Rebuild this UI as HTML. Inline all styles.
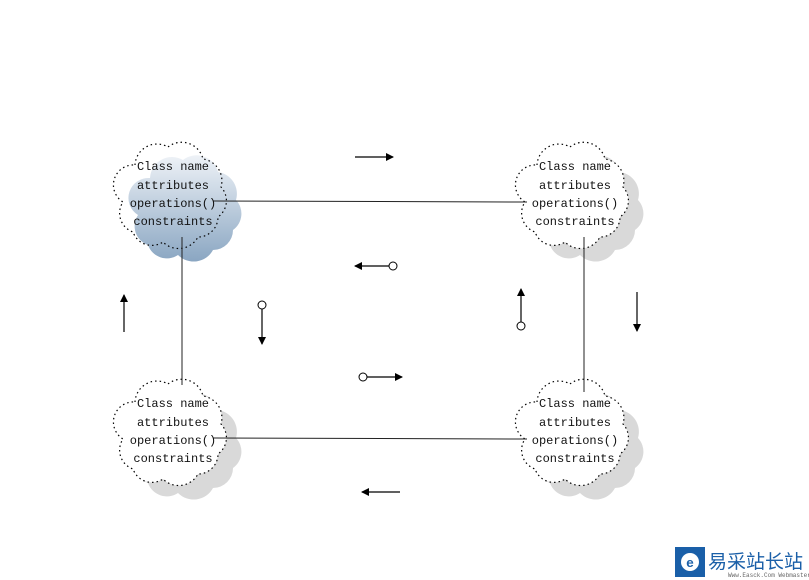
<!DOCTYPE html>
<html><head><meta charset="utf-8"><style>
html,body{margin:0;padding:0;background:#fff;width:809px;height:580px;overflow:hidden}
text{font-family:"Liberation Mono","DejaVu Sans Mono",monospace;font-size:12px;fill:#111}
</style></head><body>
<svg width="809" height="580" viewBox="0 0 809 580" xmlns="http://www.w3.org/2000/svg">
<defs>
<linearGradient id="bl" x1="0" y1="0" x2="0" y2="1">
<stop offset="0" stop-color="#eef2f7"/><stop offset="1" stop-color="#8aa6c2"/></linearGradient>
<path id="c" d="M-38,-32 A22,22 0 0 1 -5,-50 A22,22 0 0 1 30,-38 A22,22 0 0 1 48,-10 A20,20 0 0 1 45,20 A20,20 0 0 1 25,40 A22,22 0 0 1 -10,45 A20,20 0 0 1 -40,35 A20,20 0 0 1 -50,5 A20,20 0 0 1 -38,-32 Z"/>
<marker id="a" markerWidth="8" markerHeight="8" refX="7" refY="4" orient="auto" markerUnits="userSpaceOnUse"><path d="M0,0 L8,4 L0,8 Z" fill="#000"/></marker>
</defs>
<!-- shadows -->
<use href="#c" x="188" y="210" fill="url(#bl)"/>
<use href="#c" x="590" y="210" fill="#d9d9d9"/>
<use href="#c" x="188" y="448" fill="#d9d9d9"/>
<use href="#c" x="590" y="448" fill="#d9d9d9"/>
<!-- clouds -->
<g fill="none" stroke="#000" stroke-width="1.2" stroke-dasharray="1.5,3">
<use href="#c" x="173" y="197" fill="#fff" fill-opacity="0"/>
<use href="#c" x="575" y="197" fill="#fff"/>
<use href="#c" x="173" y="434" fill="#fff"/>
<use href="#c" x="575" y="434" fill="#fff"/>
</g>
<g stroke="#222" stroke-width="1" fill="none">
<line x1="213" y1="201" x2="527" y2="202"/>
<line x1="213" y1="438" x2="527" y2="439"/>
<line x1="182" y1="237" x2="182" y2="385"/>
<line x1="584" y1="237" x2="584" y2="392"/>
</g>
<g text-anchor="middle">
<text x="173" y="170">Class name</text><text x="173" y="189">attributes</text><text x="173" y="207">operations()</text><text x="173" y="225">constraints</text>
<text x="575" y="170">Class name</text><text x="575" y="189">attributes</text><text x="575" y="207">operations()</text><text x="575" y="225">constraints</text>
<text x="173" y="407">Class name</text><text x="173" y="426">attributes</text><text x="173" y="444">operations()</text><text x="173" y="462">constraints</text>
<text x="575" y="407">Class name</text><text x="575" y="426">attributes</text><text x="575" y="444">operations()</text><text x="575" y="462">constraints</text>
</g>
<g stroke="#000" stroke-width="1.2" marker-end="url(#a)">
<line x1="355" y1="157" x2="393" y2="157"/>
<line x1="389" y1="266" x2="355" y2="266"/>
<line x1="262" y1="309" x2="262" y2="344"/>
<line x1="124" y1="332" x2="124" y2="295"/>
<line x1="521" y1="322" x2="521" y2="289"/>
<line x1="637" y1="292" x2="637" y2="331"/>
<line x1="367" y1="377" x2="402" y2="377"/>
<line x1="400" y1="492" x2="362" y2="492"/>
</g>
<g fill="#fff" stroke="#000" stroke-width="1">
<circle cx="393" cy="266" r="4"/><circle cx="262" cy="305" r="4"/><circle cx="521" cy="326" r="4"/><circle cx="363" cy="377" r="4"/>
</g>
<rect x="675" y="547" width="30" height="30" fill="#1a5fa8"/>
<circle cx="690" cy="562" r="9" fill="#fff"/><text x="690" y="567" text-anchor="middle" style="font-size:13px;font-weight:bold;fill:#1a5fa8">e</text>
<text x="708" y="568" style="font-family:'Noto Sans CJK SC',sans-serif;font-size:19px;fill:#1a5fa8">易采站长站</text>
<text x="728" y="577" style="font-size:6px;fill:#666">Www.Easck.Com Webmaster</text>
</svg>
</body></html>
